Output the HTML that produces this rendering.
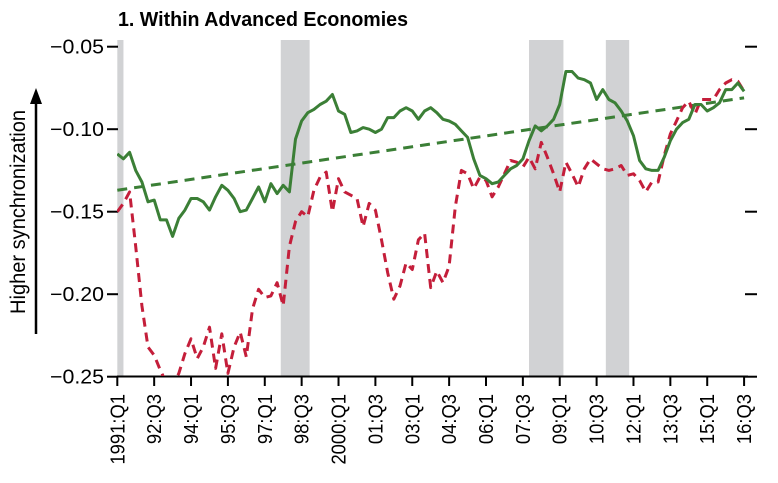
<!DOCTYPE html>
<html><head><meta charset="utf-8"><style>
body{margin:0;background:#fff;}
svg{display:block;font-family:"Liberation Sans",sans-serif;}
</style></head><body>
<svg id="chart" width="778" height="483" viewBox="0 0 778 483">
<text x="118" y="26" font-size="20" font-weight="bold" textLength="290" lengthAdjust="spacingAndGlyphs">1. Within Advanced Economies</text>
<g id="bands"></g>
<g id="axes"></g>
<defs><clipPath id="plotclip"><rect x="117" y="40" width="640" height="336"/></clipPath></defs>
<g id="series" clip-path="url(#plotclip)"></g>
<text transform="translate(25,212) rotate(-90)" text-anchor="middle" font-size="21" textLength="204" lengthAdjust="spacingAndGlyphs">Higher synchronization</text>
<line x1="36" y1="334" x2="36" y2="100" stroke="#000" stroke-width="2.5"/>
<polygon points="36,88 30,104 42,104" fill="#000"/>
</svg>
<script>
const greenValues=[-0.115,-0.118,-0.114,-0.125,-0.132,-0.144,-0.143,-0.155,-0.155,-0.165,-0.154,-0.149,-0.142,-0.142,-0.144,-0.149,-0.141,-0.134,-0.137,-0.142,-0.150,-0.149,-0.142,-0.135,-0.144,-0.133,-0.139,-0.134,-0.138,-0.106,-0.095,-0.090,-0.088,-0.085,-0.083,-0.079,-0.089,-0.091,-0.102,-0.101,-0.099,-0.100,-0.102,-0.100,-0.093,-0.093,-0.089,-0.087,-0.089,-0.094,-0.089,-0.087,-0.090,-0.094,-0.095,-0.097,-0.101,-0.105,-0.118,-0.128,-0.130,-0.133,-0.132,-0.128,-0.124,-0.122,-0.118,-0.107,-0.098,-0.101,-0.098,-0.094,-0.085,-0.065,-0.065,-0.069,-0.070,-0.072,-0.082,-0.076,-0.082,-0.084,-0.089,-0.095,-0.104,-0.119,-0.124,-0.125,-0.125,-0.117,-0.107,-0.100,-0.096,-0.094,-0.085,-0.085,-0.089,-0.087,-0.084,-0.076,-0.076,-0.072,-0.077];
const redValues=[-0.150,-0.145,-0.138,-0.171,-0.207,-0.232,-0.237,-0.246,-0.254,-0.256,-0.248,-0.236,-0.227,-0.239,-0.232,-0.220,-0.245,-0.224,-0.248,-0.232,-0.223,-0.238,-0.209,-0.197,-0.202,-0.201,-0.193,-0.207,-0.171,-0.156,-0.150,-0.153,-0.137,-0.129,-0.126,-0.150,-0.130,-0.138,-0.140,-0.142,-0.159,-0.145,-0.149,-0.167,-0.187,-0.203,-0.195,-0.181,-0.185,-0.167,-0.163,-0.196,-0.186,-0.193,-0.183,-0.147,-0.125,-0.127,-0.136,-0.129,-0.131,-0.141,-0.135,-0.127,-0.119,-0.120,-0.123,-0.117,-0.124,-0.108,-0.117,-0.127,-0.138,-0.120,-0.127,-0.135,-0.124,-0.118,-0.121,-0.124,-0.125,-0.124,-0.122,-0.128,-0.127,-0.131,-0.138,-0.132,-0.132,-0.116,-0.103,-0.095,-0.087,-0.083,-0.091,-0.082,-0.082,-0.082,-0.076,-0.072,-0.070,-0.071,-0.077];
const trendEnds=[-0.137,-0.081];
const bandStarts=[0,26.6,67,79.5];
const bandEnds=[1,31.3,72.6,83.3];
const tickLabels=["1991:Q1","92:Q3","94:Q1","95:Q3","97:Q1","98:Q3","2000:Q1","01:Q3","03:Q1","04:Q3","06:Q1","07:Q3","09:Q1","10:Q3","12:Q1","13:Q3","15:Q1","16:Q3"];
const yTicks=[-0.05,-0.10,-0.15,-0.20,-0.25];

const NS="http://www.w3.org/2000/svg";
const X0=117.3,DX=6.145,Y0=46.7,SY=1650;
function xq(i){return X0+DX*i;}
function yv(v){return Y0+(-0.05-v)*SY;}
function mk(tag,attrs,parent){const e=document.createElementNS(NS,tag);for(const k in attrs)e.setAttribute(k,attrs[k]);parent.appendChild(e);return e;}
const bands=document.getElementById('bands'),axes=document.getElementById('axes'),series=document.getElementById('series');
bandStarts.forEach((s,k)=>{
  const r=mk('rect',{x:xq(s),y:40,width:xq(bandEnds[k])-xq(s),height:336,fill:'#d1d2d4'},bands);
  
  
});
yTicks.forEach(v=>{
  const y=yv(v);
  const t1=mk('line',{x1:107,x2:118,y1:y,y2:y,stroke:'#000','stroke-width':2},axes);
  
  
  const t2=mk('line',{x1:745,x2:757,y1:y,y2:y,stroke:'#000','stroke-width':2},axes);
  
  
  const tx=mk('text',{x:104,y:y+7,'text-anchor':'end','font-size':20,textLength:54,lengthAdjust:'spacingAndGlyphs'},axes);
  tx.textContent='\u2212'+Math.abs(v).toFixed(2);
  
  
});
const ax=mk('line',{x1:117,x2:748,y1:376.5,y2:376.5,stroke:'#000','stroke-width':2},axes);


tickLabels.forEach((lab,k)=>{
  const x=xq(k*6);
  const t=mk('line',{x1:x,x2:x,y1:376,y2:386,stroke:'#000','stroke-width':2},axes);
  
  
  const tx=mk('text',{'text-anchor':'end','font-size':20,transform:`translate(${x+7},394) rotate(-90) scale(0.92,1)`},axes);
  tx.textContent=lab;
  
  
});
function path(vals){return vals.map((v,i)=>(i?'L':'M')+xq(i).toFixed(1)+','+yv(v).toFixed(1)).join(' ');}
const tr=mk('line',{x1:xq(0),y1:yv(trendEnds[0]),x2:xq(greenValues.length-1),y2:yv(trendEnds[1]),stroke:'#3b7f36','stroke-width':3,'stroke-dasharray':'10 7'},series);


const rl=mk('path',{d:path(redValues),fill:'none',stroke:'#c41e3a','stroke-width':3,'stroke-dasharray':'9 6','stroke-linejoin':'round'},series);


const gl=mk('path',{d:path(greenValues),fill:'none',stroke:'#3b7f36','stroke-width':3,'stroke-linejoin':'round'},series);


</script>
</body></html>
